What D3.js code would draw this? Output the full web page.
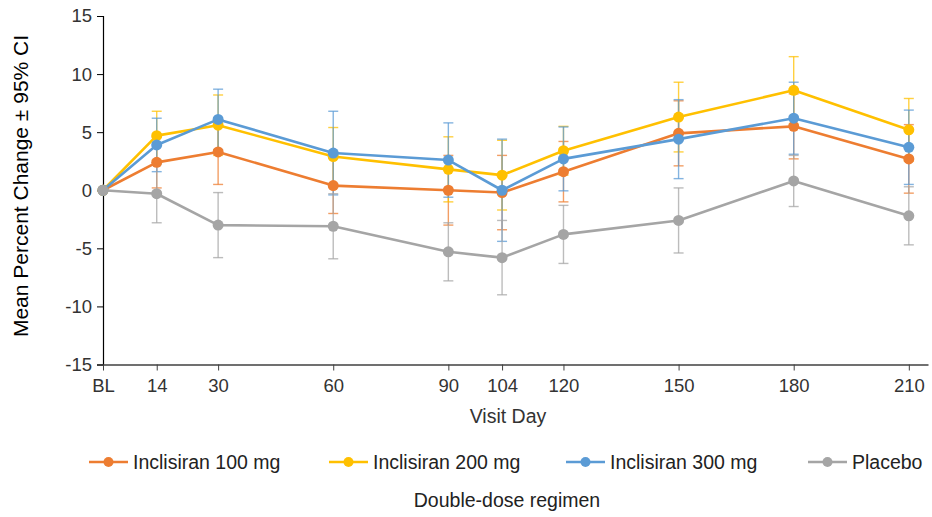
<!DOCTYPE html>
<html><head><meta charset="utf-8">
<script src="https://cdn.jsdelivr.net/npm/d3@7"></script>
<style>body{margin:0;background:#fff}svg{display:block;font-family:"Liberation Sans",Arial,sans-serif}</style>
</head><body><svg id="c" width="932" height="517"></svg>
<script>
const days = [0, 14, 30, 60, 90, 104, 120, 150, 180, 210];
const dayLabels = ["BL", "14", "30", "60", "90", "104", "120", "150", "180", "210"];
const yTicks = [-15, -10, -5, 0, 5, 10, 15];
const seriesNames = ["Inclisiran 100 mg", "Inclisiran 200 mg", "Inclisiran 300 mg", "Placebo"];
const seriesColors = ["#ED7D31", "#FFC000", "#5B9BD5", "#A5A5A5"];
const mean100 = [0, 2.4, 3.3, 0.4, 0.0, -0.2, 1.6, 4.9, 5.5, 2.7];
const ci100   = [0, 2.2, 2.8, 2.4, 3.0, 3.2, 2.6, 2.8, 2.8, 2.95];
const mean200 = [0, 4.7, 5.6, 2.9, 1.8, 1.3, 3.4, 6.3, 8.6, 5.2];
const ci200   = [0, 2.1, 2.6, 2.5, 2.8, 3.0, 2.1, 3.0, 2.9, 2.7];
const mean300 = [0, 3.9, 6.1, 3.2, 2.6, 0.0, 2.7, 4.4, 6.2, 3.7];
const ci300   = [0, 2.3, 2.6, 3.6, 3.2, 4.4, 2.75, 3.4, 3.1, 3.2];
const meanPbo = [0, -0.3, -3.0, -3.1, -5.3, -5.8, -3.8, -2.6, 0.8, -2.2];
const ciPbo   = [0, 2.5, 2.8, 2.8, 2.5, 3.2, 2.5, 2.8, 2.2, 2.5];

const means = [mean100, mean200, mean300, meanPbo];
const cis = [ci100, ci200, ci300, ciPbo];
const series = seriesNames.map((n, i) => ({
  name: n, color: seriesColors[i],
  pts: days.map((d, j) => ({d, v: means[i][j], e: cis[i][j]}))
}));

const svg = d3.select("#c");
const x = d3.scaleLinear().domain([0, 215]).range([103, 928]);
const y = d3.scaleLinear().domain([-15, 15]).range([364.5, 16]);
const txt = "#333";

// y axis
const ya = svg.append("g").attr("transform", `translate(${x(0)},0)`)
  .call(d3.axisLeft(y).tickValues(yTicks).tickFormat(d => String(d)).tickSize(6).tickPadding(5));
ya.select(".domain").attr("stroke", "#000").attr("stroke-width", 1.2);
ya.selectAll(".tick line").attr("stroke", "#000");
ya.selectAll("text").attr("font-size", 18.5).attr("fill", txt).attr("font-family", "Liberation Sans, Arial");

// x axis
const xa = svg.append("g").attr("transform", `translate(0,${y(-15)})`)
  .call(d3.axisBottom(x).tickValues(days).tickFormat((d, i) => dayLabels[i]).tickSize(6).tickSizeOuter(0).tickPadding(8));
xa.select(".domain").attr("stroke", "#404040").attr("stroke-width", 1.5);
xa.selectAll(".tick line").attr("stroke", "#404040");
xa.selectAll("text").attr("font-size", 18.5).attr("fill", txt).attr("font-family", "Liberation Sans, Arial");

svg.append("text").attr("x", 508).attr("y", 423).attr("text-anchor", "middle")
  .attr("font-size", 19.5).attr("fill", txt).text("Visit Day");
svg.append("text").attr("transform", `translate(28,186) rotate(-90)`).attr("text-anchor", "middle")
  .attr("font-size", 21).attr("fill", "#000").text("Mean Percent Change ± 95% CI");

// error bars
series.forEach(s => {
  const g = svg.append("g").attr("stroke", s.color).attr("stroke-width", 1.4).attr("stroke-opacity", 0.75).attr("fill", "none");
  s.pts.filter(p => p.e > 0).forEach(p => {
    const cx = x(p.d), t = y(p.v + p.e), b = y(p.v - p.e);
    g.append("line").attr("x1", cx).attr("x2", cx).attr("y1", t).attr("y2", b);
    g.append("line").attr("x1", cx - 5).attr("x2", cx + 5).attr("y1", t).attr("y2", t);
    g.append("line").attr("x1", cx - 5).attr("x2", cx + 5).attr("y1", b).attr("y2", b);
  });
});

// lines and markers
const line = d3.line().x(p => x(p.d)).y(p => y(p.v));
series.forEach(s => {
  svg.append("path").datum(s.pts).attr("d", line).attr("fill", "none")
    .attr("stroke", s.color).attr("stroke-width", 2.6).attr("stroke-linejoin", "round");
  svg.append("g").selectAll("circle").data(s.pts).join("circle")
    .attr("cx", p => x(p.d)).attr("cy", p => y(p.v)).attr("r", 5.5).attr("fill", s.color);
});

// legend
const legX = [89, 329, 566, 808];
const lg = svg.append("g");
series.forEach((s, i) => {
  const g = lg.append("g").attr("transform", `translate(${legX[i]},462)`);
  g.append("line").attr("x1", 0).attr("x2", 39).attr("stroke", s.color).attr("stroke-width", 2.6);
  g.append("circle").attr("cx", 19.5).attr("r", 5).attr("fill", s.color);
  g.append("text").attr("x", 44).attr("y", 0).attr("dy", "0.35em").attr("font-size", 19.5).attr("fill", "#222").text(s.name);
});
svg.append("text").attr("x", 507).attr("y", 507).attr("text-anchor", "middle")
  .attr("font-size", 19.5).attr("fill", "#222").text("Double-dose regimen");
</script></body></html>
